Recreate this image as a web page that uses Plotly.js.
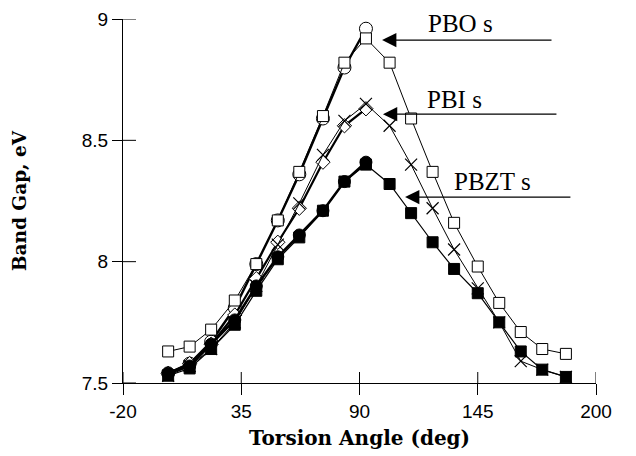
<!DOCTYPE html>
<html>
<head>
<meta charset="utf-8">
<script src="https://cdn.plot.ly/plotly-3.0.1.min.js"></script>
<style>html,body{margin:0;padding:0;background:#fff;}#chart{width:636px;height:456px;}</style>
</head>
<body>
<div id="chart"></div>
<script>
// Torsion angle positions (as plotted)
const angleFull = [1, 11, 21, 32, 42, 52, 62, 73, 83, 93, 104, 114, 124, 134, 145, 155, 165, 175, 186];
const angleHalf = [1, 11, 21, 32, 42, 52, 62, 73, 83, 93];

// PBO
const pboSquares = [7.63, 7.65, 7.72, 7.84, 7.99, 8.17, 8.37, 8.60, 8.82, 8.92, 8.82, 8.59, 8.37, 8.16, 7.98, 7.83, 7.71, 7.64, 7.62];
const pboCircles = [7.54, 7.58, 7.67, 7.81, 7.99, 8.17, 8.36, 8.59, 8.80, 8.96];
// PBI
const pbiCrosses = [7.53, 7.57, 7.64, 7.75, 7.90, 8.07, 8.24, 8.44, 8.58, 8.65, 8.56, 8.40, 8.22, 8.05, 7.89, 7.75, 7.59, 7.555, 7.525];
const pbiDiamonds = [7.54, 7.58, 7.66, 7.78, 7.93, 8.08, 8.22, 8.41, 8.56, 8.63];
// PBZT
const pbztSquares = [7.53, 7.56, 7.64, 7.74, 7.88, 8.01, 8.10, 8.21, 8.33, 8.40, 8.32, 8.20, 8.08, 7.97, 7.87, 7.75, 7.63, 7.555, 7.525];
const pbztCircles = [7.54, 7.57, 7.66, 7.76, 7.90, 8.02, 8.11, 8.21, 8.33, 8.41];

const xTicks = [-20, 35, 90, 145, 200];
const xTickText = ['-20', '35', '90', '145', '200'];
const yTicks = [7.5, 8, 8.5, 9];
const yTickText = ['7.5', '8', '8.5', '9'];

const labels = ['PBO s', 'PBI s', 'PBZT s'];

const traces = [
  {x: angleHalf, y: pboCircles, name: 'PBO circles', mode: 'lines+markers', cliponaxis: false,
   line: {color: '#000', width: 2.4},
   marker: {symbol: 'circle', size: 13, color: '#fff', line: {color: '#000', width: 1}}},
  {x: angleFull, y: pboSquares, name: 'PBO squares', mode: 'lines+markers', cliponaxis: false,
   line: {color: '#000', width: 1},
   marker: {symbol: 'square', size: 11, color: '#fff', line: {color: '#000', width: 1}}},
  {x: angleHalf, y: pbiDiamonds, name: 'PBI diamonds', mode: 'lines+markers', cliponaxis: false,
   line: {color: '#000', width: 2.2},
   marker: {symbol: 'diamond', size: 11, color: '#fff', line: {color: '#000', width: 1}}},
  {x: angleFull, y: pbiCrosses, name: 'PBI crosses', mode: 'lines+markers', cliponaxis: false,
   line: {color: '#000', width: 1},
   marker: {symbol: 'x-thin', size: 12, color: '#000', line: {color: '#000', width: 1.2}}},
  {x: angleHalf, y: pbztCircles, name: 'PBZT circles', mode: 'lines+markers', cliponaxis: false,
   line: {color: '#000', width: 2.6},
   marker: {symbol: 'circle', size: 12, color: '#000', line: {color: '#000', width: 1}}},
  {x: angleFull, y: pbztSquares, name: 'PBZT squares', mode: 'lines+markers', cliponaxis: false,
   line: {color: '#000', width: 1.2},
   marker: {symbol: 'square', size: 11, color: '#000', line: {color: '#000', width: 1}}}
];

const tickFont = {family: 'Liberation Sans, Arial, sans-serif', size: 19, color: '#000'};
const xTitleFont = {family: "'DejaVu Serif', serif", size: 20, color: '#000', weight: 'bold'};
const yTitleFont = {family: "'DejaVu Serif', serif", size: 18.5, color: '#000', weight: 'bold'};
const labelFont = {family: 'Liberation Serif, Times New Roman, serif', size: 25, color: '#000'};

// inner halves of the crossing tick marks, built from the tick arrays
const innerTicks = [];
xTicks.forEach(v => innerTicks.push({
  type: 'line', xref: 'x', yref: 'paper', ysizemode: 'pixel', yanchor: 0,
  x0: v, x1: v, y0: 0, y1: 11, line: {color: '#000', width: 1}
}));
yTicks.forEach(v => innerTicks.push({
  type: 'line', xref: 'paper', yref: 'y', xsizemode: 'pixel', xanchor: 0,
  x0: 0, x1: 13, y0: v, y1: v, line: {color: '#000', width: 1}
}));

const layout = {
  width: 636, height: 456, autosize: false,
  margin: {l: 123, r: 40, t: 19, b: 73},
  paper_bgcolor: '#fff', plot_bgcolor: '#fff',
  showlegend: false,
  xaxis: {
    range: [-20, 200], tickvals: xTicks, ticktext: xTickText,
    ticks: 'outside', ticklen: 11, tickcolor: '#000', tickwidth: 1,
    showgrid: false, zeroline: false, showline: true, linecolor: '#000', linewidth: 1,
    tickfont: tickFont,
    title: {text: 'Torsion Angle (deg)', font: xTitleFont, standoff: 10}
  },
  yaxis: {
    range: [7.5, 9], tickvals: yTicks, ticktext: yTickText,
    ticks: 'outside', ticklen: 10, tickcolor: '#000', tickwidth: 1,
    showgrid: false, zeroline: false, showline: true, linecolor: '#000', linewidth: 1,
    tickfont: tickFont,
    title: {text: 'Band Gap, eV', font: yTitleFont, standoff: 50}
  },
  shapes: innerTicks,
  annotations: [
    {xref: 'x', yref: 'y', x: 137, y: 8.98, text: labels[0], showarrow: false, font: labelFont, xanchor: 'center', yanchor: 'middle'},
    {xref: 'x', yref: 'y', x: 134, y: 8.67, text: labels[1], showarrow: false, font: labelFont, xanchor: 'center', yanchor: 'middle'},
    {xref: 'x', yref: 'y', x: 152, y: 8.33, text: labels[2], showarrow: false, font: labelFont, xanchor: 'center', yanchor: 'middle'},
    {xref: 'x', yref: 'y', axref: 'x', ayref: 'y', x: 100.5, y: 8.913, ax: 180, ay: 8.913, text: '',
     showarrow: true, arrowhead: 2, arrowsize: 2.2, arrowwidth: 1.3, arrowcolor: '#000'},
    {xref: 'x', yref: 'y', axref: 'x', ayref: 'y', x: 100.9, y: 8.608, ax: 182.3, ay: 8.608, text: '',
     showarrow: true, arrowhead: 2, arrowsize: 2.2, arrowwidth: 1.3, arrowcolor: '#000'},
    {xref: 'x', yref: 'y', axref: 'x', ayref: 'y', x: 111.2, y: 8.266, ax: 188.8, ay: 8.266, text: '',
     showarrow: true, arrowhead: 2, arrowsize: 2.2, arrowwidth: 1.3, arrowcolor: '#000'}
  ]
};

Plotly.newPlot('chart', traces, layout, {staticPlot: true, displayModeBar: false});
</script>
</body>
</html>
